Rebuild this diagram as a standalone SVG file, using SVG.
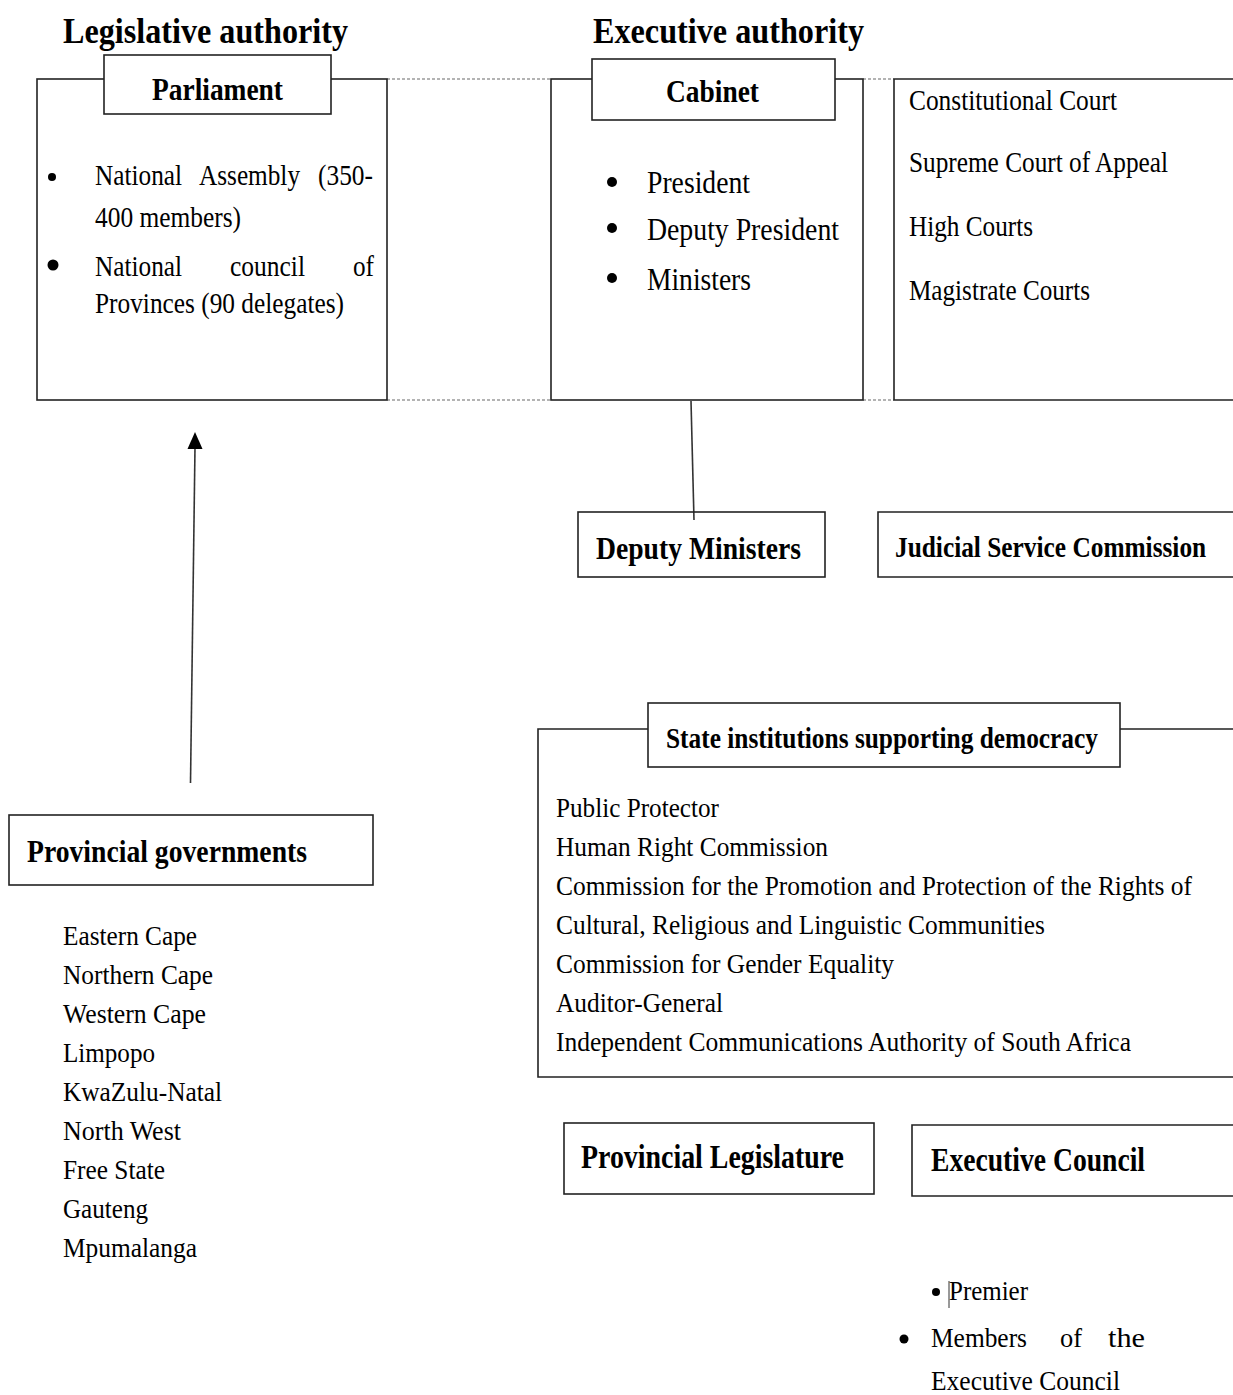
<svg xmlns="http://www.w3.org/2000/svg" width="1233" height="1395" viewBox="0 0 1233 1395">
<style>
text{font-family:"Liberation Serif","Times New Roman",serif;fill:#000}
.h{font-weight:bold;font-size:36px}
.b{font-weight:bold;font-size:32px}
.t{font-size:29px}
.s{font-size:27px}
.box{fill:none;stroke:#222;stroke-width:1.6}
.tb{fill:#fff;stroke:#222;stroke-width:1.6}
.dash{stroke:#9a9a9a;stroke-width:1.5;stroke-dasharray:3 2;fill:none}
.conn{stroke:#333;stroke-width:1.6;fill:none}
</style>
<rect width="1233" height="1395" fill="#fff"/>

<text class="h" x="63" y="43" textLength="285" lengthAdjust="spacingAndGlyphs">Legislative authority</text>
<text class="h" x="593" y="43" textLength="271" lengthAdjust="spacingAndGlyphs">Executive authority</text>

<g id="connectors">
<line class="dash" x1="387" y1="79" x2="551" y2="79"/>
<line class="dash" x1="387" y1="400" x2="551" y2="400"/>
<line class="dash" x1="863" y1="79" x2="894" y2="79"/>
<line class="dash" x1="863" y1="400" x2="894" y2="400"/>
<line class="conn" x1="691" y1="401" x2="694" y2="520"/>
<line class="conn" x1="190.5" y1="783" x2="195" y2="447"/>
<polygon points="195,432 187.5,449 202.5,449" fill="#000"/>
</g>

<g id="parliament">
<rect class="box" x="37" y="79" width="350" height="321"/>
<rect class="tb" x="104" y="55" width="227" height="59"/>
<text class="b" x="152" y="100" textLength="131" lengthAdjust="spacingAndGlyphs">Parliament</text>
<circle cx="52" cy="177" r="4"/>
<text class="t" x="95" y="185" textLength="87" lengthAdjust="spacingAndGlyphs">National</text>
<text class="t" x="199" y="185" textLength="101" lengthAdjust="spacingAndGlyphs">Assembly</text>
<text class="t" x="318" y="185" textLength="55" lengthAdjust="spacingAndGlyphs">(350-</text>
<text class="t" x="95" y="227" textLength="146" lengthAdjust="spacingAndGlyphs">400 members)</text>
<circle cx="53" cy="265" r="5.5"/>
<text class="t" x="95" y="276" textLength="87" lengthAdjust="spacingAndGlyphs">National</text>
<text class="t" x="230" y="276" textLength="75" lengthAdjust="spacingAndGlyphs">council</text>
<text class="t" x="353" y="276" textLength="21" lengthAdjust="spacingAndGlyphs">of</text>
<text class="t" x="95" y="313" textLength="249" lengthAdjust="spacingAndGlyphs">Provinces (90 delegates)</text>
</g>

<g id="cabinet">
<rect class="box" x="551" y="79" width="312" height="321"/>
<rect class="tb" x="592" y="59" width="243" height="61"/>
<text class="b" x="666" y="102" textLength="93" lengthAdjust="spacingAndGlyphs">Cabinet</text>
<circle cx="612" cy="182" r="5"/>
<circle cx="612" cy="228" r="5"/>
<circle cx="612" cy="278" r="5"/>
<text class="t" x="647" y="193" style="font-size:31px" textLength="103" lengthAdjust="spacingAndGlyphs">President</text>
<text class="t" x="647" y="240" style="font-size:31px" textLength="192" lengthAdjust="spacingAndGlyphs">Deputy President</text>
<text class="t" x="647" y="290" style="font-size:31px" textLength="104" lengthAdjust="spacingAndGlyphs">Ministers</text>
</g>

<g id="courts">
<path class="box" d="M1234.5,79 H894 V400 H1234.5"/>
<text class="t" x="909" y="110" style="font-size:30px" textLength="208" lengthAdjust="spacingAndGlyphs">Constitutional Court</text>
<text class="t" x="909" y="172" style="font-size:30px" textLength="259" lengthAdjust="spacingAndGlyphs">Supreme Court of Appeal</text>
<text class="t" x="909" y="236" style="font-size:30px" textLength="124" lengthAdjust="spacingAndGlyphs">High Courts</text>
<text class="t" x="909" y="300" style="font-size:30px" textLength="181" lengthAdjust="spacingAndGlyphs">Magistrate Courts</text>
</g>

<g id="deputy-ministers">
<rect class="box" x="578" y="512" width="247" height="65"/>
<text class="b" x="596" y="559" textLength="205" lengthAdjust="spacingAndGlyphs">Deputy Ministers</text>
</g>

<g id="judicial-service-commission">
<path class="box" d="M1234.5,512 H878 V577 H1234.5"/>
<text class="b" transform="translate(895,557) scale(0.8,1)" x="0" y="0" style="font-size:30px" textLength="389" lengthAdjust="spacingAndGlyphs">Judicial Service Commission</text>
</g>

<g id="state-institutions">
<path class="box" d="M1234.5,729 H538 V1077 H1234.5"/>
<rect class="tb" x="648" y="703" width="472" height="64"/>
<text class="b" x="666" y="748" style="font-size:29px" textLength="432" lengthAdjust="spacingAndGlyphs">State institutions supporting democracy</text>
<text class="s" x="556" y="817" textLength="163" lengthAdjust="spacingAndGlyphs">Public Protector</text>
<text class="s" x="556" y="856" textLength="272" lengthAdjust="spacingAndGlyphs">Human Right Commission</text>
<text class="s" x="556" y="895" textLength="636" lengthAdjust="spacingAndGlyphs">Commission for the Promotion and Protection of the Rights of</text>
<text class="s" x="556" y="934" textLength="489" lengthAdjust="spacingAndGlyphs">Cultural, Religious and Linguistic Communities</text>
<text class="s" x="556" y="973" textLength="338" lengthAdjust="spacingAndGlyphs">Commission for Gender Equality</text>
<text class="s" x="556" y="1012" textLength="167" lengthAdjust="spacingAndGlyphs">Auditor-General</text>
<text class="s" x="556" y="1051" textLength="575" lengthAdjust="spacingAndGlyphs">Independent Communications Authority of South Africa</text>
</g>

<g id="provincial-governments">
<rect class="box" x="9" y="815" width="364" height="70"/>
<text class="b" x="27" y="862" textLength="280" lengthAdjust="spacingAndGlyphs">Provincial governments</text>
<text class="s" x="63" y="945" textLength="134" lengthAdjust="spacingAndGlyphs">Eastern Cape</text>
<text class="s" x="63" y="984" textLength="150" lengthAdjust="spacingAndGlyphs">Northern Cape</text>
<text class="s" x="63" y="1023" textLength="143" lengthAdjust="spacingAndGlyphs">Western Cape</text>
<text class="s" x="63" y="1062" textLength="92" lengthAdjust="spacingAndGlyphs">Limpopo</text>
<text class="s" x="63" y="1101" textLength="159" lengthAdjust="spacingAndGlyphs">KwaZulu-Natal</text>
<text class="s" x="63" y="1140" textLength="118" lengthAdjust="spacingAndGlyphs">North West</text>
<text class="s" x="63" y="1179" textLength="102" lengthAdjust="spacingAndGlyphs">Free State</text>
<text class="s" x="63" y="1218" textLength="85" lengthAdjust="spacingAndGlyphs">Gauteng</text>
<text class="s" x="63" y="1257" textLength="134" lengthAdjust="spacingAndGlyphs">Mpumalanga</text>
</g>

<g id="provincial-legislature">
<rect class="box" x="564" y="1123" width="310" height="71"/>
<text class="b" x="581" y="1168" style="font-size:33px" textLength="263" lengthAdjust="spacingAndGlyphs">Provincial Legislature</text>
</g>

<g id="executive-council">
<path class="box" d="M1234.5,1125 H912 V1196 H1234.5"/>
<text class="b" x="931" y="1171" style="font-size:33px" textLength="214" lengthAdjust="spacingAndGlyphs">Executive Council</text>
<circle cx="936" cy="1292" r="4"/>
<line x1="949" y1="1281" x2="949" y2="1308" stroke="#333" stroke-width="1"/>
<text class="s" x="949" y="1300" style="font-size:28px" textLength="79" lengthAdjust="spacingAndGlyphs">Premier</text>
<circle cx="904" cy="1339" r="4.5"/>
<text class="s" x="931" y="1347" style="font-size:28px" textLength="96" lengthAdjust="spacingAndGlyphs">Members</text>
<text class="s" x="1060" y="1347" style="font-size:28px" textLength="22" lengthAdjust="spacingAndGlyphs">of</text>
<text class="s" x="1108" y="1347" style="font-size:28px" textLength="37" lengthAdjust="spacingAndGlyphs">the</text>
<text class="s" x="931" y="1390" style="font-size:28px" textLength="189" lengthAdjust="spacingAndGlyphs">Executive Council</text>
</g>
</svg>
